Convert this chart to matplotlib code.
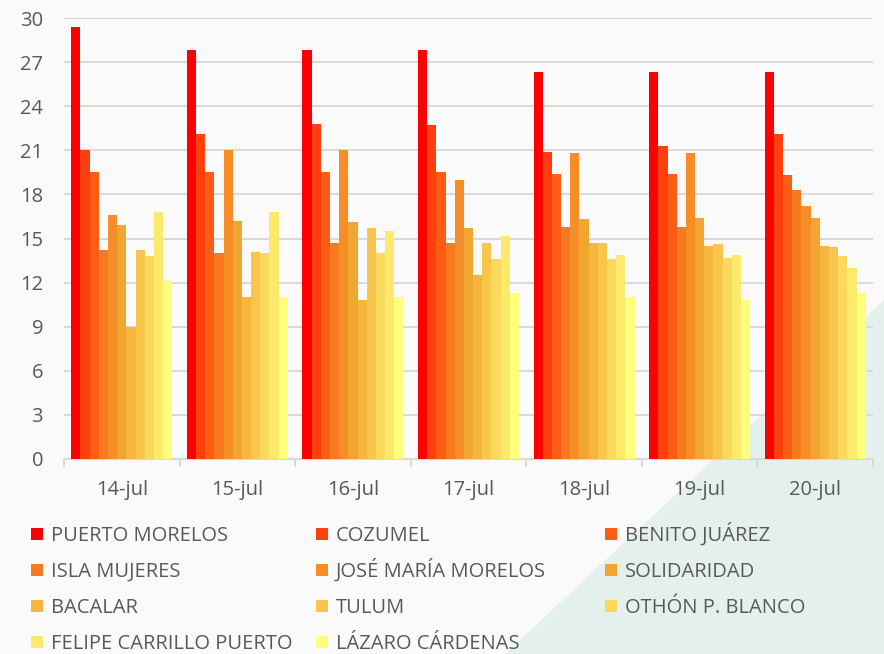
import matplotlib
matplotlib.use("Agg")
import matplotlib.pyplot as plt
from matplotlib.patches import Patch, Polygon
import numpy as np

dates = ["14-jul", "15-jul", "16-jul", "17-jul", "18-jul", "19-jul", "20-jul"]
municipios = ["PUERTO MORELOS", "COZUMEL", "BENITO JUÁREZ", "ISLA MUJERES",
              "JOSÉ MARÍA MORELOS", "SOLIDARIDAD", "BACALAR", "TULUM",
              "OTHÓN P. BLANCO", "FELIPE CARRILLO PUERTO", "LÁZARO CÁRDENAS"]

puerto_morelos = [29.4, 27.8, 27.8, 27.8, 26.3, 26.3, 26.3]
cozumel        = [21.0, 22.1, 22.8, 22.7, 20.9, 21.3, 22.1]
benito_juarez  = [19.5, 19.5, 19.5, 19.5, 19.4, 19.4, 19.3]
isla_mujeres   = [14.2, 14.0, 14.7, 14.7, 15.8, 15.8, 18.3]
jose_maria_mor = [16.6, 21.0, 21.0, 19.0, 20.8, 20.8, 17.2]
solidaridad    = [15.9, 16.2, 16.1, 15.7, 16.3, 16.4, 16.4]
bacalar        = [9.0, 11.0, 10.8, 12.5, 14.7, 14.5, 14.5]
tulum          = [14.2, 14.1, 15.7, 14.7, 14.7, 14.6, 14.4]
othon_p_blanco = [13.8, 14.0, 14.0, 13.6, 13.6, 13.7, 13.8]
felipe_carrillo= [16.8, 16.8, 15.5, 15.2, 13.9, 13.9, 13.0]
lazaro_cardenas= [12.1, 11.0, 11.0, 11.3, 11.0, 10.8, 11.3]

series = [puerto_morelos, cozumel, benito_juarez, isla_mujeres, jose_maria_mor,
          solidaridad, bacalar, tulum, othon_p_blanco, felipe_carrillo, lazaro_cardenas]

colors = ["#ff0000", "#fe3f0e", "#fd5c15", "#f87a20", "#f68d27", "#efa732",
          "#f6b53d", "#f9c64c", "#fbd95d", "#fdea6d", "#ffff7c"]

plt.rcParams['font.family'] = ['Open Sans', 'DejaVu Sans']
text_color = "#595959"
grid_color = "#d9d9d9"
FS = 14.5

W, H = 884, 654
fig = plt.figure(figsize=(W / 100, H / 100), dpi=100)
fig.patch.set_facecolor("#fafafa")

# decorative background triangle
bg = Polygon([(505 / W, 0), (884 / W, (654 - 300) / H), (1, 0)], closed=True,
             transform=fig.transFigure, facecolor="#e4f0eb", edgecolor="none", zorder=-10)
fig.patches.append(bg)

ax = fig.add_axes([64 / W, (654 - 459) / H, (873 - 64) / W, (459 - 18) / H])
ax.set_facecolor("none")
ax.set_zorder(1)

n = len(series)
x = np.arange(len(dates))
group_w = 0.874
bw = group_w / n
for i, (vals, c) in enumerate(zip(series, colors)):
    ax.bar(x + (i - (n - 1) / 2) * bw, vals, width=bw, color=c, label=municipios[i],
           zorder=3, linewidth=0)

ax.set_xlim(-0.5, len(dates) - 0.5)
ax.set_ylim(0, 30)
ax.set_yticks(np.arange(0, 31, 3))
ax.yaxis.grid(True, color=grid_color, linewidth=1.4, zorder=0)
ax.set_axisbelow(True)
for s in ["top", "right", "left"]:
    ax.spines[s].set_visible(False)
ax.spines["bottom"].set_color(grid_color)
ax.spines["bottom"].set_linewidth(1.4)

ax.set_xticks(x)
ax.set_xticklabels(dates)
ax.set_xticks(np.arange(-0.5, len(dates), 1.0), minor=True)
ax.tick_params(axis="x", which="major", length=0, pad=15, labelsize=FS, labelcolor=text_color)
ax.tick_params(axis="x", which="minor", length=6, width=1.4, color=grid_color, direction="out")
ax.tick_params(axis="y", length=0, pad=15, labelsize=FS, labelcolor=text_color)

# legend: entries placed row-major in three columns, anchored at the bottom so
# accented labels keep the same baseline
col_x = [31, 316, 605]
row_y = [533, 569, 605, 641]
for i, name in enumerate(municipios):
    r, c = divmod(i, 3)
    leg = fig.legend([Patch(facecolor=colors[i], edgecolor="none")], [name],
                     loc="lower left",
                     bbox_to_anchor=(col_x[c] / W, (654 - row_y[r] - 13) / H),
                     frameon=False, fontsize=FS, handlelength=0.6, handleheight=0.6,
                     handletextpad=0.38, borderpad=0, borderaxespad=0)
    for t in leg.get_texts():
        t.set_color(text_color)

fig.savefig("out.png", dpi=100, facecolor=fig.get_facecolor())
